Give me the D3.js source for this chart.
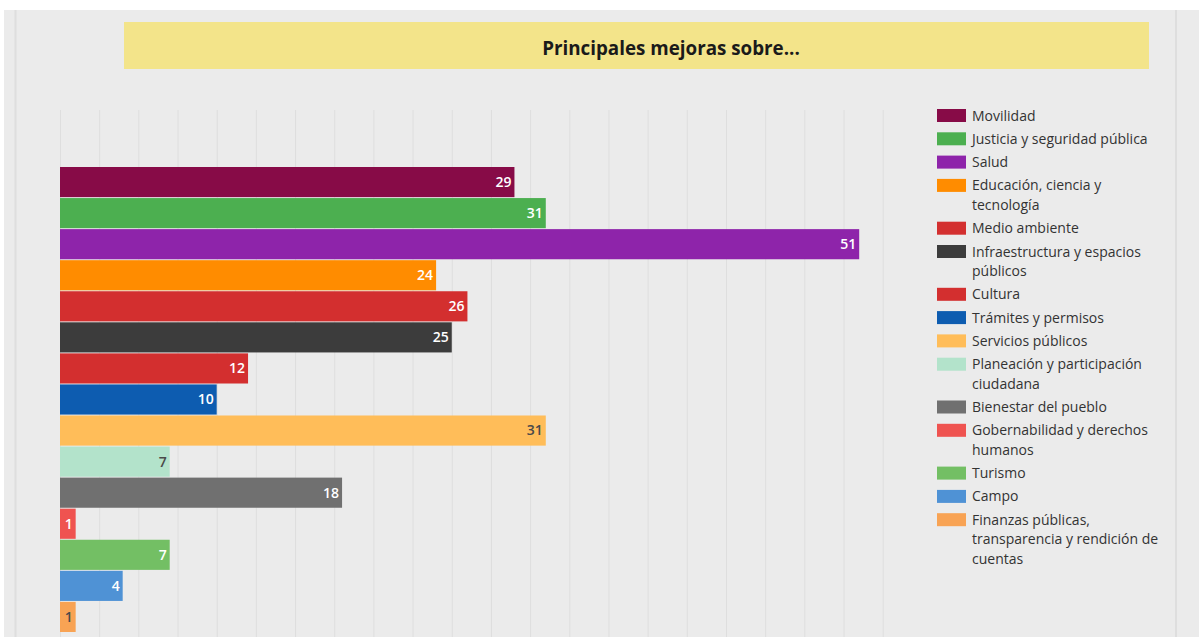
<!DOCTYPE html>
<html>
<head>
<meta charset="utf-8">
<script src="https://cdn.jsdelivr.net/npm/d3@7"></script>
<style>
  html, body { margin: 0; padding: 0; background: #ffffff; }
  svg { display: block; font-family: 'Open Sans', 'Noto Sans', sans-serif; }
</style>
</head>
<body>
<svg></svg>
<script>
let categories = [
  'Movilidad',
  'Justicia y seguridad pública',
  'Salud',
  'Educación, ciencia y tecnología',
  'Medio ambiente',
  'Infraestructura y espacios públicos',
  'Cultura',
  'Trámites y permisos',
  'Servicios públicos',
  'Planeación y participación ciudadana',
  'Bienestar del pueblo',
  'Gobernabilidad y derechos humanos',
  'Turismo',
  'Campo',
  'Finanzas públicas, transparencia y rendición de cuentas'
]
let values = [29, 31, 51, 24, 26, 25, 12, 10, 31, 7, 18, 1, 7, 4, 1]
let palette = ['#870b47', '#4caf50', '#8e24aa', '#ff8c00', '#d32f2f', '#3c3c3c', '#d32f2f', '#0d5cb0',
  '#ffbd59', '#b3e3cb', '#707070', '#ef5350', '#73bf64', '#4f92d5', '#f8a354']
let titleText = 'Principales mejoras sobre...'

let width = 1199
let height = 637

let svg = d3.select('svg').attr('width', width).attr('height', height)

// panel
svg.append('rect').attr('x', 4).attr('y', 10).attr('width', width - 4).attr('height', height - 10).attr('fill', '#ebebeb')
svg.append('line').attr('x1', 15.5).attr('x2', 15.5).attr('y1', 10).attr('y2', height).attr('stroke', '#dedede').attr('stroke-width', 2)
svg.append('line').attr('x1', 1176).attr('x2', 1176).attr('y1', 10).attr('y2', height).attr('stroke', '#dedede').attr('stroke-width', 2)

// title
svg.append('rect').attr('x', 124).attr('y', 22).attr('width', 1025).attr('height', 47).attr('fill', '#f3e48a')
svg.append('text')
  .attr('x', 671).attr('y', 54.5)
  .attr('text-anchor', 'middle')
  .attr('font-size', 18.8).attr('font-weight', 700)
  .attr('fill', '#1a1a1a')
  .text(titleText)

let xScale = d3.scaleLinear().domain([0, 52.5]).range([60, 882.7])
let yScale = d3.scaleBand().domain(categories).range([167, 632]).paddingInner(0.03)

// gridlines
let xAxis = d3.axisBottom(xScale).tickValues(d3.range(0, 52.6, 2.5)).tickSize(-(height - 110)).tickFormat('')
svg.append('g')
  .attr('class', 'grid')
  .attr('transform', 'translate(0,' + height + ')')
  .call(xAxis)
  .call(g => g.select('.domain').remove())
  .call(g => g.selectAll('line').attr('stroke', '#dedede').attr('stroke-width', 1))

let rows = categories.map((c, i) => ({ cat: c, value: values[i], color: palette[i] }))

svg.selectAll('rect.bar')
  .data(rows)
  .enter()
  .append('rect')
  .attr('class', 'bar')
  .attr('x', xScale(0))
  .attr('y', d => yScale(d.cat))
  .attr('width', d => xScale(d.value) - xScale(0))
  .attr('height', yScale.bandwidth())
  .attr('fill', d => d.color)

svg.selectAll('text.val')
  .data(rows)
  .enter()
  .append('text')
  .attr('class', 'val')
  .attr('x', d => xScale(d.value) - 3)
  .attr('y', d => yScale(d.cat) + yScale.bandwidth() / 2)
  .attr('dy', '0.35em')
  .attr('text-anchor', 'end')
  .attr('font-size', 14).attr('font-weight', 600)
  .attr('fill', d => d3.lab(d.color).l > 72 ? '#4a4a4a' : '#ffffff')
  .text(d => d.value)

// legend
let legend = svg.append('g').attr('class', 'legend')
let wrapWidth = 194
let lineH = 19.5
let ly = 109
rows.forEach(d => {
  let g = legend.append('g').attr('transform', 'translate(937,' + ly + ')')
  g.append('rect').attr('width', 29).attr('height', 13).attr('fill', d.color)
  let t = g.append('text').attr('x', 35).attr('y', 11.5).attr('font-size', 14).attr('fill', '#333')
  let words = d.cat.split(' ')
  let line = []
  let n = 0
  let tspan = t.append('tspan').attr('x', 35).attr('dy', 0)
  words.forEach(w => {
    line.push(w)
    tspan.text(line.join(' '))
    if (tspan.node().getComputedTextLength() > wrapWidth && line.length > 1) {
      line.pop()
      tspan.text(line.join(' '))
      line = [w]
      n++
      tspan = t.append('tspan').attr('x', 35).attr('dy', lineH).text(w)
    }
  })
  ly += 23.3 + n * lineH
})
</script>
</body>
</html>
